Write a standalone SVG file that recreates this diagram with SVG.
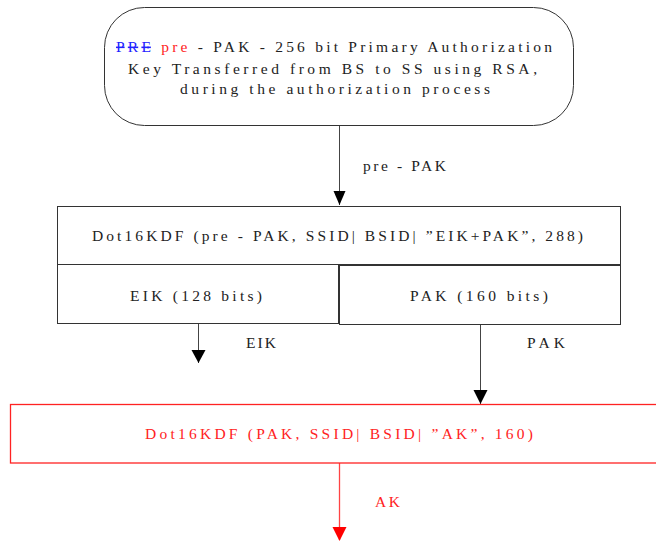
<svg xmlns="http://www.w3.org/2000/svg" width="656" height="542" viewBox="0 0 656 542">
<defs>
<style>
text{font-family:"Liberation Serif","Times New Roman",serif;font-size:15.5px;fill:#222}
.box{fill:#fff;stroke:#333;stroke-width:1}
.red{fill:#f22}
.rbox{fill:#fff;stroke:#f22;stroke-width:1.3}
.ln{stroke:#444;stroke-width:1;fill:none}
.rln{stroke:#f44;stroke-width:1.3;fill:none}
</style>
</defs>
<g id="connectors">
<line class="ln" x1="339.5" y1="126" x2="339.5" y2="205"/>
<polygon points="333.5,191 345.5,191 339.5,205" fill="#000"/>
<text x="363" y="171" textLength="83" lengthAdjust="spacing">pre - PAK</text>
<line class="ln" x1="198.5" y1="324" x2="198.5" y2="363"/>
<polygon points="191.5,350 205.5,350 198.5,363" fill="#000"/>
<text x="246" y="348" textLength="30" lengthAdjust="spacing">EIK</text>
<line class="ln" x1="480.5" y1="325" x2="480.5" y2="404"/>
<polygon points="473.5,390 487.5,390 480.5,404" fill="#000"/>
<text x="527" y="348" textLength="38" lengthAdjust="spacing">PAK</text>
<line class="rln" x1="339.5" y1="463" x2="339.5" y2="540"/>
<polygon points="332.5,527 346.5,527 339.5,541" fill="#f00"/>
<text class="red" x="375" y="507" textLength="25" lengthAdjust="spacing">AK</text>
</g>
<g id="prepak">
<rect class="box" x="104.5" y="7.5" width="469" height="118" rx="40" ry="40"/>
<text x="116" y="52" textLength="436" lengthAdjust="spacing"><tspan fill="#22f" text-decoration="line-through">PRE</tspan> <tspan class="red">pre</tspan> - PAK -  256 bit Primary Authorization</text>
<text x="128" y="74" textLength="409" lengthAdjust="spacing">Key Transferred from BS to SS using RSA,</text>
<text x="180" y="94" textLength="310" lengthAdjust="spacing">during the authorization process</text>
</g>
<g id="kdf1">
<rect class="box" x="57.5" y="206.5" width="563" height="58"/>
<text x="92" y="241" textLength="491" lengthAdjust="spacing">Dot16KDF (pre - PAK, SSID| BSID| ”EIK+PAK”, 288)</text>
</g>
<g id="eik">
<rect class="box" x="57.5" y="264.5" width="281" height="59"/>
<text x="130" y="301" textLength="132" lengthAdjust="spacing">EIK (128 bits)</text>
</g>
<g id="pak">
<rect class="box" x="339.5" y="265.5" width="281" height="59"/>
<text x="410" y="301" textLength="138" lengthAdjust="spacing">PAK (160 bits)</text>
</g>
<g id="kdf2">
<rect class="rbox" x="10.5" y="404.5" width="660" height="58.5"/>
<text class="red" x="145" y="439" textLength="388" lengthAdjust="spacing">Dot16KDF (PAK, SSID| BSID| ”AK”, 160)</text>
</g>
</svg>
